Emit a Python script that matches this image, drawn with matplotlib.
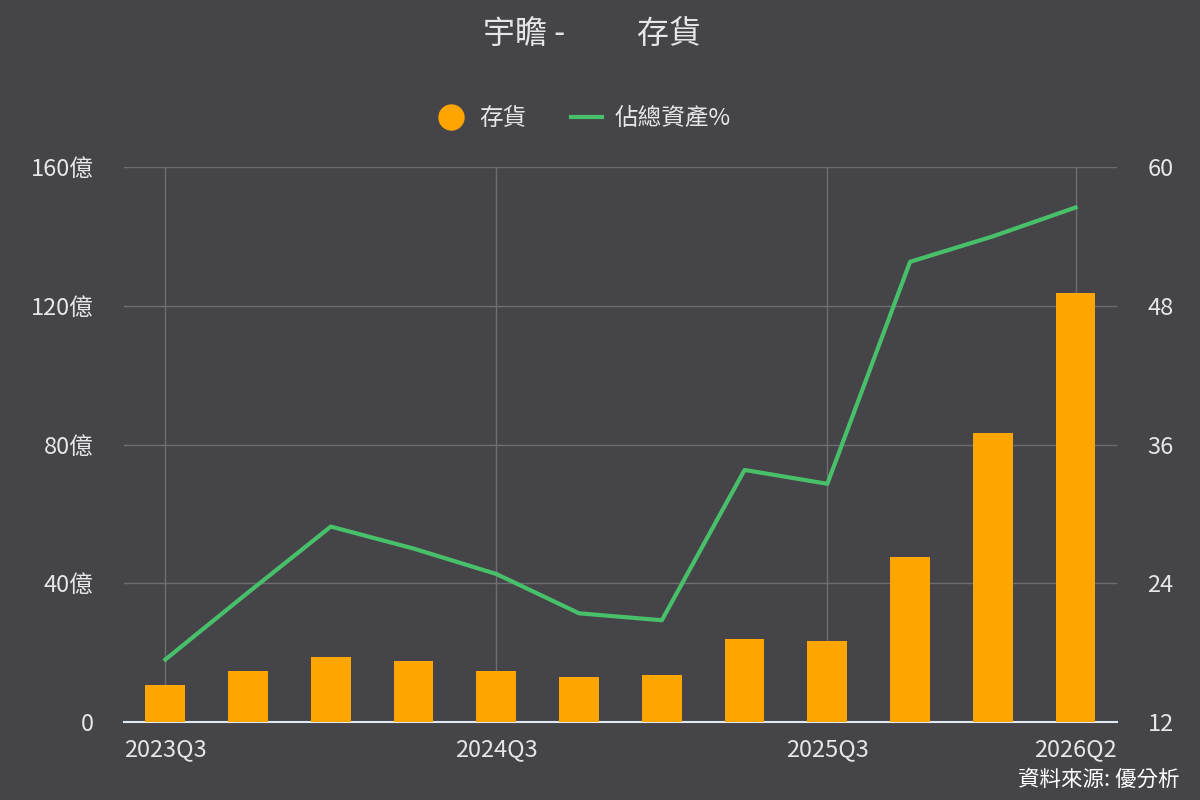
import matplotlib.pyplot as plt
from matplotlib.lines import Line2D

plt.rcParams['font.family'] = ['Noto Sans CJK TC', 'DejaVu Sans']

quarters = ['2023Q3', '2023Q4', '2024Q1', '2024Q2', '2024Q3', '2024Q4',
            '2025Q1', '2025Q2', '2025Q3', '2025Q4', '2026Q1', '2026Q2']
inventory = [10.7, 14.7, 18.7, 17.6, 14.7, 13.0, 13.5, 23.9, 23.3, 47.6, 83.3, 123.7]
pct_assets = [17.4, 23.2, 28.9, 27.0, 24.8, 21.4, 20.8, 33.8, 32.6, 51.8, 54.0, 56.5]
shown_ticks = [0, 4, 8, 11]

bg = '#454449'
txt = '#e6e6e6'
grid_c = '#6e6d72'

fig = plt.figure(figsize=(12, 8), dpi=100, facecolor=bg)
ax = fig.add_axes([0.1033, 0.0975, 0.8275, 0.69375], facecolor=bg)
ax2 = ax.twinx()

x = list(range(len(quarters)))
ax.bar(x, inventory, width=0.48, color='#ffa500', zorder=3)
ax2.plot(x, pct_assets, color='#48c06a', lw=3, zorder=4)

ax.set_xlim(-0.5, len(quarters) - 0.5)
ax.set_ylim(0, 160)
ax2.set_ylim(12, 60)
ax.set_yticks([0, 40, 80, 120, 160])
ax.set_yticklabels(['0', '40億', '80億', '120億', '160億'])
ax2.set_yticks([12, 24, 36, 48, 60])
ax.set_xticks(shown_ticks)
ax.set_xticklabels([quarters[i] for i in shown_ticks])

ax.grid(True, color=grid_c, lw=1, zorder=0)
ax.set_axisbelow(True)
ax2.set_zorder(ax.get_zorder() + 1)
ax2.patch.set_visible(False)

for a in (ax, ax2):
    for s in a.spines.values():
        s.set_visible(False)
    a.tick_params(length=0, colors=txt, labelsize=17)
ax.spines['bottom'].set_visible(True)
ax.spines['bottom'].set_color('#dfe8f3')
ax.spines['bottom'].set_linewidth(1.5)
ax.tick_params(axis='x', pad=12)
ax.tick_params(axis='y', pad=22)
ax2.tick_params(axis='y', pad=22)

fig.text(0.471, 0.958, '宇瞻 -', ha='right', va='center', color=txt, fontsize=23)
fig.text(0.531, 0.958, '存貨', ha='left', va='center', color=txt, fontsize=23)

handles = [Line2D([], [], marker='o', ls='none', color='#ffa500', markersize=18),
           Line2D([], [], color='#48c06a', lw=3)]
fig.legend(handles, ['存貨', '佔總資產%'], loc='center', bbox_to_anchor=(0.486, 0.852),
           ncol=2, frameon=False, fontsize=17, labelcolor=txt,
           handlelength=1.3, columnspacing=1.9, handletextpad=0.55)

fig.text(0.983, 0.012, '資料來源: 優分析', ha='right', va='bottom',
         color='white', fontsize=15.5)

fig.savefig('out.png', dpi=100, facecolor=bg)
